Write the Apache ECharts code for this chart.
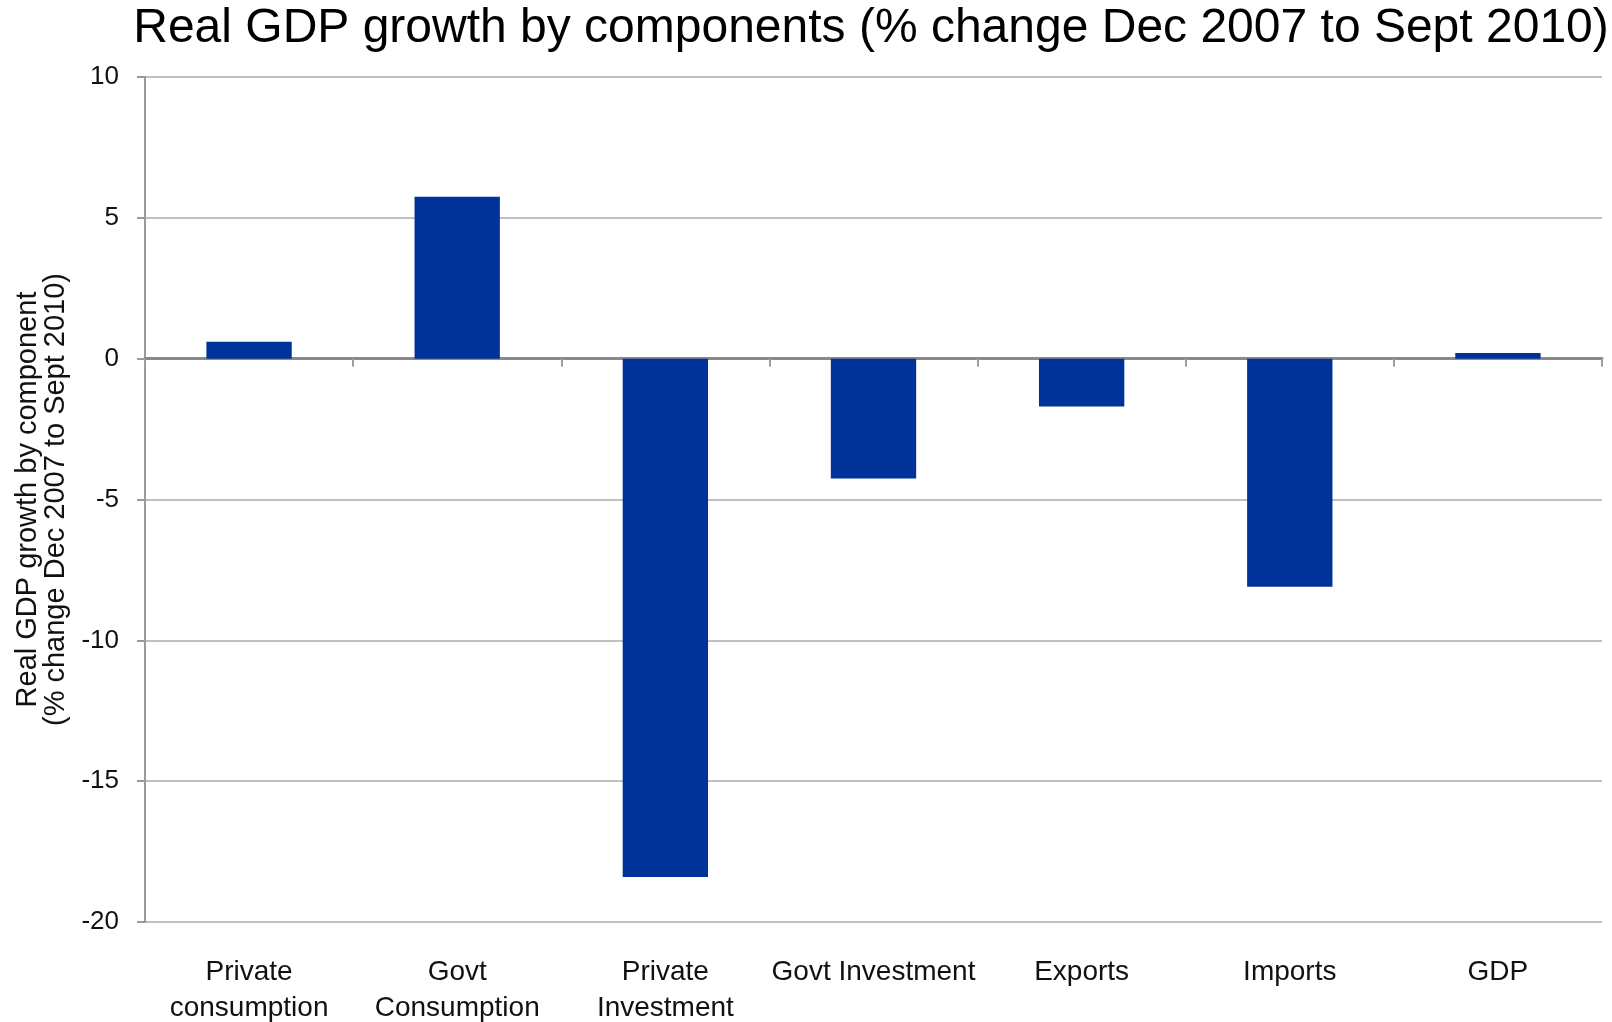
<!DOCTYPE html>
<html>
<head>
<meta charset="utf-8">
<style>
  html, body { margin: 0; padding: 0; background: #fff; }
  #chart { width: 1612px; height: 1022px; }
</style>
<script src="https://cdn.jsdelivr.net/npm/echarts@6/dist/echarts.min.js"></script>
</head>
<body>
<div id="chart"></div>
<script>
// Components of real GDP and their % change, Dec 2007 to Sept 2010
const categories = [
  'Private\nconsumption',
  'Govt\nConsumption',
  'Private\nInvestment',
  'Govt Investment',
  'Exports',
  'Imports',
  'GDP'
];
const growth = [0.6, 5.75, -18.4, -4.25, -1.7, -8.1, 0.2];

const yMin = -20;
const yMax = 10;
const yStep = 5;

const chart = echarts.init(document.getElementById('chart'));
chart.setOption({
  animation: false,
  backgroundColor: '#ffffff',
  title: {
    text: 'Real GDP growth by components (% change Dec 2007 to Sept 2010)',
    left: 866,
    textAlign: 'center',
    top: 0,
    textStyle: {
      fontFamily: 'Liberation Sans',
      fontWeight: 'normal',
      fontSize: 48,
      color: '#000'
    }
  },
  grid: {
    left: 145, right: 10, top: 77, bottom: 100,
    containLabel: false,
    outerBoundsMode: 'none'
  },
  xAxis: {
    type: 'category',
    data: categories,
    axisLine: { onZero: true, lineStyle: { color: '#8a8a8a', width: 3 } },
    axisTick: { show: true, alignWithLabel: false, length: 8, lineStyle: { color: '#a0a0a0', width: 2 } },
    axisLabel: {
      position: 'bottom',
      fontFamily: 'Liberation Sans',
      fontSize: 28,
      lineHeight: 36,
      color: '#111',
      margin: 32,
      interval: 0
    },
    splitLine: { show: false }
  },
  yAxis: {
    type: 'value',
    min: yMin,
    max: yMax,
    interval: yStep,
    name: 'Real GDP growth by component\n(% change Dec 2007 to Sept 2010)',
    nameLocation: 'middle',
    nameGap: 74,
    nameRotate: 90,
    nameTextStyle: {
      fontFamily: 'Liberation Sans',
      fontSize: 29,
      lineHeight: 28,
      color: '#111'
    },
    axisLine: { show: true, lineStyle: { color: '#9a9a9a', width: 2 } },
    axisTick: { show: true, length: 8, lineStyle: { color: '#9a9a9a', width: 2 } },
    axisLabel: {
      fontFamily: 'Liberation Sans',
      fontSize: 26,
      color: '#111',
      margin: 26
    },
    splitLine: { show: true, lineStyle: { color: '#c0c0c0', width: 2 } }
  },
  series: [{
    type: 'bar',
    data: growth,
    barWidth: '41%',
    itemStyle: { color: '#003399' },
    z: 1
  }]
});
</script>
</body>
</html>
